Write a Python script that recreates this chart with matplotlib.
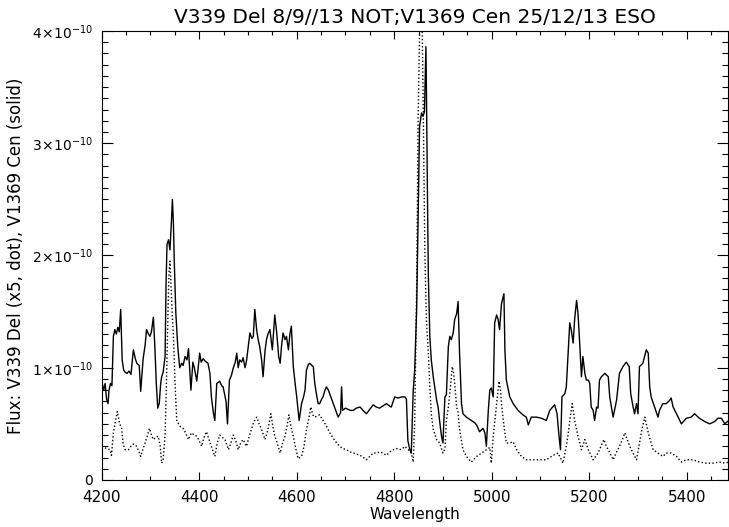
import numpy as np
import matplotlib
matplotlib.use("Agg")
import matplotlib.pyplot as plt
from matplotlib.ticker import MultipleLocator, FuncFormatter

# V1369 Cen (solid), flux in units of 1e-10
wl_cen = [4200, 4204, 4207, 4210, 4213, 4215, 4218, 4221, 4224, 4227, 4230, 4233, 4236, 4239,
          4242, 4245, 4248, 4252, 4256, 4260, 4265, 4269, 4272, 4277, 4280, 4285, 4289, 4292,
          4296, 4299, 4302, 4306, 4309, 4312, 4315, 4318, 4321, 4323, 4326, 4330, 4332, 4334,
          4337, 4340, 4343, 4345, 4347, 4349, 4352, 4356, 4360, 4364, 4367, 4371, 4375, 4378,
          4383, 4387, 4390, 4395, 4401, 4404, 4408, 4412, 4418, 4422, 4425, 4429, 4432, 4436,
          4442, 4446, 4449, 4455, 4458, 4462, 4466, 4470, 4474, 4477, 4480, 4483, 4487, 4490,
          4494, 4497, 4501, 4504, 4508, 4511, 4514, 4518, 4521, 4524, 4528, 4531, 4535, 4538,
          4541, 4545, 4550, 4555, 4559, 4563, 4566, 4569, 4572, 4576, 4579, 4583, 4586, 4589,
          4593, 4597, 4600, 4605, 4610, 4614, 4617, 4620, 4624, 4627, 4631, 4634, 4637, 4641,
          4644, 4647, 4651, 4654, 4658, 4661, 4665, 4670, 4675, 4680, 4685, 4690, 4692, 4694,
          4700, 4705, 4710, 4716, 4722, 4730, 4736, 4743, 4750, 4757, 4763, 4770, 4777, 4784,
          4790, 4794, 4798, 4801, 4808, 4815, 4822, 4825, 4828, 4832, 4835, 4839, 4842, 4846,
          4849, 4852, 4856, 4859, 4862, 4865, 4866, 4868, 4870, 4873, 4876, 4880, 4883, 4887,
          4890, 4893, 4897, 4900, 4902, 4904, 4907, 4911, 4914, 4917, 4921, 4924, 4928, 4931,
          4934, 4938, 4941, 4948, 4958, 4965, 4969, 4975, 4982, 4986, 4989, 4993, 4996, 4999,
          5003, 5006, 5010, 5013, 5016, 5020, 5025, 5027, 5030, 5037, 5044, 5054, 5064, 5071,
          5075, 5081, 5092, 5102, 5112, 5119, 5129, 5134, 5138, 5141, 5144, 5150, 5153, 5157,
          5160, 5163, 5167, 5170, 5174, 5177, 5180, 5184, 5187, 5191, 5194, 5198, 5201, 5204,
          5208, 5211, 5215, 5218, 5221, 5225, 5232, 5239, 5242, 5249, 5256, 5262, 5269, 5276,
          5282, 5285, 5290, 5293, 5297, 5300, 5303, 5310, 5317, 5321, 5324, 5327, 5334, 5341,
          5344, 5351, 5358, 5365, 5368, 5372, 5379, 5389, 5399, 5409, 5416, 5426, 5437, 5447,
          5457, 5464, 5471, 5478, 5486]
flux_cen = [0.88, 0.80, 0.86, 0.72, 0.68, 0.80, 0.86, 0.84, 1.28, 1.34, 1.30, 1.36, 1.32, 1.52,
            1.07, 0.98, 0.96, 0.95, 0.97, 0.94, 1.16, 1.08, 1.04, 1.02, 0.79, 1.08, 1.20, 1.34,
            1.30, 1.28, 1.32, 1.45, 1.19, 0.86, 0.64, 0.68, 0.86, 0.92, 0.96, 1.10, 1.75, 2.10,
            2.14, 2.05, 2.30, 2.50, 2.30, 1.93, 1.49, 1.19, 1.00, 1.04, 1.02, 1.10, 1.07, 1.17,
            0.80, 1.05, 1.00, 0.88, 1.13, 1.05, 1.08, 1.06, 1.04, 0.95, 0.74, 0.60, 0.53, 0.86,
            0.88, 0.84, 0.83, 0.70, 0.50, 0.89, 0.93, 1.00, 1.05, 1.13, 1.00, 1.07, 1.05, 1.09,
            1.00, 1.06, 1.20, 1.31, 1.26, 1.28, 1.52, 1.33, 1.25, 1.19, 1.07, 0.92, 1.15, 1.25,
            1.30, 1.34, 1.16, 1.47, 1.31, 1.10, 1.04, 1.20, 1.31, 1.25, 1.28, 1.16, 1.30, 1.37,
            1.01, 0.85, 0.74, 0.53, 0.68, 0.74, 0.80, 0.98, 1.03, 1.04, 1.02, 1.01, 0.86, 0.75,
            0.68, 0.68, 0.72, 0.74, 0.80, 0.83, 0.80, 0.74, 0.68, 0.62, 0.56, 0.60, 0.83, 0.62,
            0.64, 0.63, 0.62, 0.62, 0.64, 0.65, 0.62, 0.59, 0.63, 0.67, 0.65, 0.64, 0.66, 0.68,
            0.66, 0.65, 0.70, 0.74, 0.73, 0.74, 0.74, 0.72, 0.35, 0.27, 0.24, 0.80, 0.98, 1.52,
            2.32, 3.15, 3.27, 3.24, 3.28, 3.86, 3.50, 2.60, 1.81, 1.28, 1.07, 0.92, 0.83, 0.71,
            0.65, 0.53, 0.39, 0.33, 0.55, 0.74, 0.76, 1.19, 1.28, 1.25, 1.31, 1.43, 1.48, 1.59,
            1.13, 0.68, 0.59, 0.56, 0.53, 0.51, 0.49, 0.43, 0.46, 0.42, 0.30, 0.62, 0.80, 0.82,
            0.74, 1.40, 1.47, 1.43, 1.34, 1.57, 1.66, 1.16, 0.89, 0.74, 0.68, 0.62, 0.58, 0.56,
            0.49, 0.56, 0.56, 0.55, 0.53, 0.62, 0.67, 0.59, 0.39, 0.27, 0.74, 0.77, 0.83, 1.16,
            1.40, 1.34, 1.22, 1.43, 1.60, 1.48, 1.25, 0.92, 1.10, 0.95, 0.89, 0.89, 0.86, 0.65,
            0.62, 0.53, 0.65, 0.64, 0.89, 0.92, 0.95, 0.92, 0.74, 0.56, 0.71, 0.95, 1.01, 1.05,
            1.01, 0.77, 0.65, 0.59, 0.68, 0.59, 1.01, 1.04, 1.16, 1.13, 0.83, 0.74, 0.65, 0.56,
            0.62, 0.68, 0.68, 0.71, 0.73, 0.65, 0.59, 0.50, 0.55, 0.56, 0.59, 0.55, 0.52, 0.50,
            0.52, 0.55, 0.55, 0.50, 0.53]

# V339 Del x5 (dotted), flux in units of 1e-10
wl_del = [4200, 4210, 4217, 4220, 4224, 4228, 4232, 4237, 4241, 4244, 4248, 4255, 4260, 4265,
          4270, 4276, 4280, 4285, 4289, 4294, 4298, 4302, 4306, 4311, 4316, 4320, 4323, 4326,
          4330, 4333, 4336, 4338, 4340, 4342, 4345, 4347, 4349, 4351, 4354, 4360, 4367, 4372,
          4378, 4384, 4390, 4395, 4400, 4405, 4410, 4415, 4420, 4425, 4432, 4437, 4442, 4447,
          4453, 4460, 4465, 4470, 4475, 4480, 4485, 4490, 4497, 4502, 4507, 4512, 4518, 4523,
          4528, 4535, 4541, 4547, 4551, 4555, 4560, 4566, 4571, 4576, 4580, 4584, 4588, 4593,
          4598, 4603, 4610, 4615, 4620, 4625, 4629, 4633, 4637, 4642, 4647, 4654, 4661, 4668,
          4675, 4682, 4688, 4695, 4702, 4710, 4716, 4723, 4730, 4737, 4743, 4750, 4757, 4764,
          4770, 4777, 4784, 4791, 4798, 4805, 4811, 4817, 4822, 4829, 4835, 4839, 4842, 4846,
          4849, 4852, 4855, 4857, 4859, 4861, 4863, 4866, 4870, 4873, 4876, 4880, 4887, 4893,
          4900, 4904, 4907, 4911, 4914, 4917, 4919, 4922, 4924, 4928, 4931, 4934, 4938, 4941,
          4948, 4958, 4969, 4979, 4989, 4996, 4999, 5003, 5007, 5010, 5013, 5015, 5018, 5020,
          5023, 5027, 5030, 5037, 5044, 5051, 5061, 5071, 5085, 5098, 5112, 5126, 5136, 5146,
          5153, 5157, 5160, 5165, 5170, 5177, 5184, 5191, 5198, 5208, 5218, 5224, 5230, 5235,
          5239, 5249, 5255, 5262, 5268, 5273, 5278, 5283, 5290, 5297, 5303, 5308, 5314, 5318,
          5321, 5331, 5341, 5351, 5358, 5368, 5379, 5389, 5399, 5413, 5426, 5440, 5454, 5467,
          5478, 5486]
flux_del = [0.30, 0.28, 0.27, 0.22, 0.42, 0.52, 0.61, 0.50, 0.46, 0.32, 0.27, 0.27, 0.30, 0.32,
            0.31, 0.26, 0.21, 0.28, 0.33, 0.40, 0.46, 0.40, 0.36, 0.38, 0.39, 0.30, 0.15, 0.18,
            0.40, 0.90, 1.50, 1.85, 1.95, 1.75, 1.45, 1.30, 1.05, 0.80, 0.53, 0.48, 0.46, 0.42,
            0.36, 0.42, 0.40, 0.39, 0.35, 0.30, 0.38, 0.43, 0.36, 0.30, 0.21, 0.33, 0.40, 0.38,
            0.36, 0.27, 0.33, 0.40, 0.35, 0.27, 0.33, 0.36, 0.30, 0.38, 0.45, 0.52, 0.56, 0.50,
            0.45, 0.36, 0.45, 0.59, 0.48, 0.39, 0.33, 0.24, 0.33, 0.39, 0.48, 0.58, 0.48, 0.39,
            0.28, 0.19, 0.21, 0.30, 0.45, 0.55, 0.65, 0.58, 0.56, 0.57, 0.58, 0.53, 0.48, 0.42,
            0.37, 0.33, 0.30, 0.28, 0.27, 0.25, 0.24, 0.23, 0.22, 0.20, 0.18, 0.21, 0.24, 0.24,
            0.25, 0.24, 0.22, 0.25, 0.27, 0.28, 0.27, 0.28, 0.30, 0.27, 0.24, 0.16, 0.53, 1.72,
            3.21, 3.98, 4.10, 4.12, 3.50, 2.70, 2.00, 1.43, 1.13, 0.83, 0.59, 0.45, 0.36, 0.33,
            0.24, 0.28, 0.53, 0.65, 0.77, 0.92, 1.01, 0.95, 0.86, 0.65, 0.60, 0.45, 0.35, 0.27,
            0.21, 0.16, 0.21, 0.24, 0.27, 0.29, 0.15, 0.39, 0.55, 0.68, 0.80, 0.88, 0.80, 0.68,
            0.56, 0.42, 0.33, 0.33, 0.34, 0.27, 0.21, 0.18, 0.18, 0.18, 0.18, 0.22, 0.24, 0.15,
            0.30, 0.42, 0.53, 0.68, 0.53, 0.39, 0.27, 0.36, 0.27, 0.18, 0.24, 0.30, 0.36, 0.30,
            0.27, 0.18, 0.24, 0.30, 0.36, 0.42, 0.36, 0.30, 0.24, 0.18, 0.33, 0.45, 0.56, 0.48,
            0.42, 0.27, 0.24, 0.21, 0.24, 0.24, 0.21, 0.16, 0.18, 0.18, 0.16, 0.15, 0.15, 0.16,
            0.15, 0.16]

SCALE = 1e-10
TITLE = "V339 Del 8/9//13 NOT;V1369 Cen 25/12/13 ESO"
XLABEL = "Wavelength"
YLABEL = "Flux: V339 Del (x5, dot), V1369 Cen (solid)"


def ylab(v, pos):
    n = int(round(v / SCALE))
    if n == 0:
        return "0"
    return r"$%d\!\times\!10^{-10}$" % n


fig = plt.figure(figsize=(7.29, 5.27), dpi=100)
ax = fig.add_axes([0.1395, 0.0892, 0.8594, 0.852])

ax.plot(wl_cen, np.array(flux_cen) * SCALE, color="black", linewidth=1.0)
ax.plot(wl_del, np.array(flux_del) * SCALE, color="black", linewidth=1.0,
        linestyle=(0, (1, 1.6)))

ax.set_xlim(4200, 5485)
ax.set_ylim(0, 4e-10)
ax.xaxis.set_major_locator(MultipleLocator(200))
ax.xaxis.set_minor_locator(MultipleLocator(50))
ax.yaxis.set_major_locator(MultipleLocator(1e-10))
ax.yaxis.set_minor_locator(MultipleLocator(1e-11))
ax.yaxis.set_major_formatter(FuncFormatter(ylab))

ax.tick_params(axis="both", which="both", direction="in", top=True, right=True, width=0.8)
ax.tick_params(axis="x", which="major", length=6, pad=7, labelsize=11)
ax.tick_params(axis="x", which="minor", length=3)
ax.tick_params(axis="y", which="major", length=8, pad=6, labelsize=10)
ax.tick_params(axis="y", which="minor", length=4.5)
for sp in ax.spines.values():
    sp.set_linewidth(0.8)

ax.set_title(TITLE, fontsize=14.5, pad=6)
ax.set_xlabel(XLABEL, fontsize=11, labelpad=2)
ax.set_ylabel(YLABEL, fontsize=12, labelpad=5)

fig.savefig("out.png", dpi=100)
